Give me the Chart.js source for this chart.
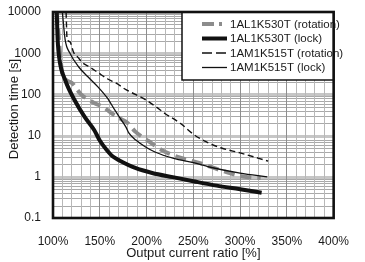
<!DOCTYPE html>
<html><head><meta charset="utf-8">
<script src="https://cdn.jsdelivr.net/npm/chart.js@4"></script>
<style>html,body{margin:0;padding:0;background:#fff}#c{display:block}</style>
</head><body>
<canvas id="c" width="365" height="262"></canvas>
<script>
// ---- data ----
const seriesNames = ['1AL1K530T (rotation)', '1AL1K530T (lock)', '1AM1K515T (rotation)', '1AM1K515T (lock)'];

const alRotX = [104, 106, 108, 110, 120, 130, 144, 154, 165, 173, 180, 188, 202, 216, 236, 257, 281, 305, 322];
const alRotY = [10000, 2700, 760, 330, 190, 100, 62, 49, 32, 25, 20, 12.5, 7.4, 4.5, 2.9, 2.15, 1.4, 1.0, 0.93];

const alLockX = [104, 105, 107, 113, 123, 134, 144, 150, 157, 164, 171, 188, 206, 228, 250, 275, 300, 323];
const alLockY = [10000, 2100, 680, 224, 73, 28, 13.7, 7.6, 4.6, 3.1, 2.5, 1.64, 1.24, 0.98, 0.78, 0.61, 0.5, 0.41];

const amRotX = [114, 115, 118, 122, 127, 131, 138, 148, 158, 168, 178, 188, 200, 210, 220, 236, 250, 263, 280, 300, 330];
const amRotY = [10000, 2300, 1900, 1050, 780, 600, 480, 340, 240, 185, 130, 100, 72, 50, 34, 20, 10.8, 7.2, 5.0, 3.8, 2.4];

const amLockX = [110, 113, 118, 127.5, 137.6, 148, 158, 166, 173, 178, 181, 188.5, 199, 209, 229, 250, 267, 300, 329];
const amLockY = [10000, 2100, 1010, 462, 264, 152, 82, 42, 24, 16, 11.6, 7.8, 5.3, 4.0, 2.8, 2.2, 1.73, 1.23, 1.0];

const xMajorVals = [100, 150, 200, 250, 300, 350, 400];
const xTickLabels = ['100%', '150%', '200%', '250%', '300%', '350%', '400%'];
const yMajorVals = [0.1, 1, 10, 100, 1000, 10000];
const yTickLabels = ['0.1', '1', '10', '100', '1000', '10000'];
const yMinorSteps = [2, 3, 4, 5, 6, 7, 8, 9];

const xTitle = 'Output current ratio [%]';
const yTitle = 'Detection time [s]';

// ---- helpers ----
const pts = (xs, ys) => xs.map((x, i) => ({x: x, y: ys[i]}));
const majorY = v => yMajorVals.findIndex(d => Math.abs(Math.log10(v) - Math.log10(d)) < 1e-6);
const FONT = "'Liberation Sans', Arial, Helvetica, sans-serif";
const TXT = '#1a1a1a';

const styles = [
  {color: '#8c8c8c', width: 4, dash: [11, 6], legendDash: [12, 5], legendLen: 20},
  {color: '#111111', width: 4, dash: [], legendDash: [], legendLen: 25},
  {color: '#111111', width: 1.4, dash: [6, 3.5], legendDash: [10, 4], legendLen: 24},
  {color: '#111111', width: 1.3, dash: [], legendDash: [], legendLen: 25}
];
const seriesData = [pts(alRotX, alRotY), pts(alLockX, alLockY), pts(amRotX, amRotY), pts(amLockX, amLockY)];
const drawOrder = [3, 2, 1, 0]; // grey drawn below the black lines

const datasets = seriesData.map((d, i) => ({
  label: seriesNames[i],
  data: d,
  borderColor: styles[i].color,
  borderWidth: styles[i].width,
  borderDash: styles[i].dash,
  borderCapStyle: 'butt',
  pointRadius: 0,
  fill: false,
  cubicInterpolationMode: 'monotone',
  order: drawOrder[i]
}));

const chartDecor = {
  id: 'chartDecor',
  beforeDraw(chart) {
    const ctx = chart.ctx, a = chart.chartArea, ys = chart.scales.y;
    ctx.save();
    ctx.beginPath();
    ctx.rect(a.left, a.top, a.right - a.left, a.bottom - a.top);
    ctx.clip();
    ctx.strokeStyle = '#a9a9a9';
    ctx.lineWidth = 1;
    yMajorVals.forEach(d => {
      yMinorSteps.forEach(m => {
        const p = Math.round(ys.getPixelForValue(d * m)) + 0.5;
        ctx.beginPath(); ctx.moveTo(a.left, p); ctx.lineTo(a.right, p); ctx.stroke();
      });
    });
    ctx.strokeStyle = '#c6c6c6';
    ctx.lineWidth = 3;
    yMajorVals.forEach(d => {
      const p = Math.round(ys.getPixelForValue(d)) + 0.5;
      ctx.beginPath(); ctx.moveTo(a.left, p); ctx.lineTo(a.right, p); ctx.stroke();
    });
    ctx.restore();
  },
  afterDatasetsDraw(chart) {
    const ctx = chart.ctx, a = chart.chartArea;
    const x0 = 182, y0 = a.top, x1 = a.right, y1 = 80;
    ctx.save();
    ctx.fillStyle = '#fff';
    ctx.fillRect(x0, y0, x1 - x0, y1 - y0);
    ctx.strokeStyle = '#111';
    ctx.lineWidth = 1.5;
    ctx.strokeRect(x0, y0, x1 - x0, y1 - y0);
    const rowY = [24, 38.5, 53, 67.5];
    ctx.font = '11.5px ' + FONT;
    ctx.fillStyle = TXT;
    ctx.textBaseline = 'middle';
    ctx.textAlign = 'left';
    seriesNames.forEach((n, i) => {
      const s = styles[i];
      ctx.beginPath();
      ctx.setLineDash(s.legendDash);
      ctx.strokeStyle = s.color;
      ctx.lineWidth = s.width;
      ctx.lineCap = 'butt';
      ctx.moveTo(202, rowY[i]);
      ctx.lineTo(202 + s.legendLen, rowY[i]);
      ctx.stroke();
      ctx.setLineDash([]);
      ctx.fillText(n, 230, rowY[i] + 0.5);
    });
    ctx.restore();
  },
  afterDraw(chart) {
    const ctx = chart.ctx, a = chart.chartArea;
    ctx.save();
    ctx.strokeStyle = '#111';
    ctx.lineWidth = 2.6;
    ctx.strokeRect(a.left, a.top, a.right - a.left, a.bottom - a.top);
    ctx.translate(14, 109);
    ctx.rotate(-Math.PI / 2);
    ctx.font = '13px ' + FONT;
    ctx.fillStyle = TXT;
    ctx.textAlign = 'center';
    ctx.textBaseline = 'middle';
    ctx.fillText(yTitle, 0, 0);
    ctx.restore();
  }
};

new Chart(document.getElementById('c'), {
  type: 'line',
  data: {datasets: datasets},
  plugins: [chartDecor],
  options: {
    responsive: false,
    animation: false,
    devicePixelRatio: 1,
    layout: {padding: {top: 12, right: 17, left: 0, bottom: 0}},
    plugins: {legend: {display: false}, tooltip: {enabled: false}},
    scales: {
      x: {
        type: 'linear',
        min: 100, max: 400,
        afterFit: s => { s.height = 44; },
        border: {display: false},
        grid: {
          drawTicks: false,
          color: c => (c.tick && xMajorVals.includes(c.tick.value)) ? '#8e8e8e' : '#b8b8b8',
          lineWidth: 1
        },
        ticks: {
          stepSize: 10,
          autoSkip: false,
          maxRotation: 0,
          padding: 16,
          color: TXT,
          font: {family: FONT, size: 12},
          callback: v => { const i = xMajorVals.indexOf(v); return i >= 0 ? xTickLabels[i] : ''; }
        },
        title: {display: true, text: xTitle, color: TXT, font: {family: FONT, size: 13}, padding: {top: 0, bottom: 1.2}}
      },
      y: {
        type: 'logarithmic',
        min: 0.1, max: 10000,
        afterFit: s => { s.width = 53; },
        afterBuildTicks: s => { s.ticks = yMajorVals.map(v => ({value: v})); },
        border: {display: false},
        grid: {display: false},
        ticks: {
          autoSkip: false,
          padding: 4,
          color: TXT,
          font: {family: FONT, size: 12},
          callback: v => { const i = majorY(v); return i >= 0 ? yTickLabels[i] : ''; }
        }
      }
    }
  }
});
</script>
</body></html>
